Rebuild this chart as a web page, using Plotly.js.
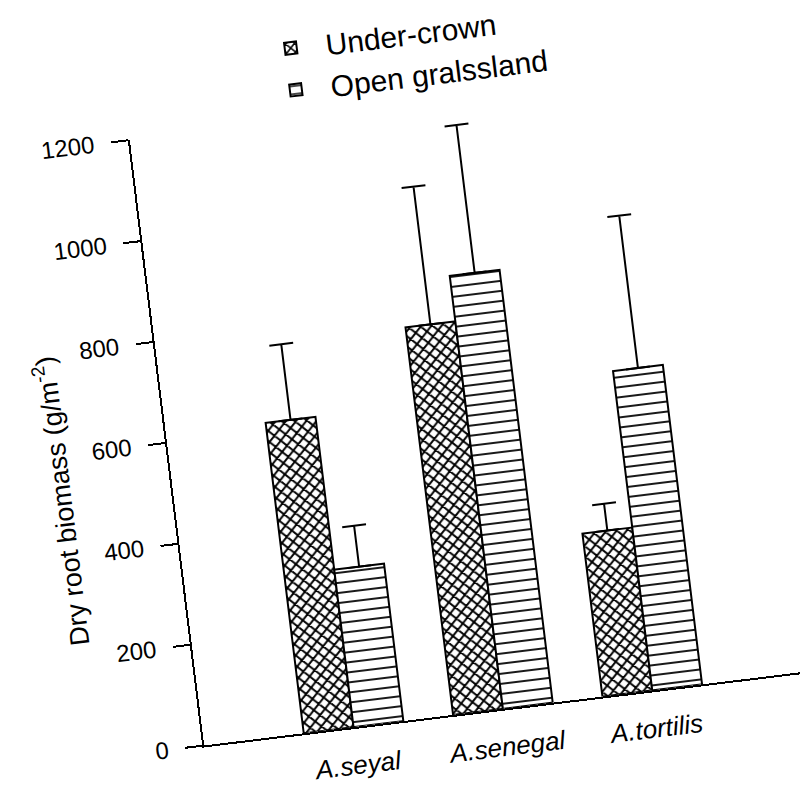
<!DOCTYPE html>
<html>
<head>
<meta charset="utf-8">
<script src="https://cdn.plot.ly/plotly-3.0.1.min.js"></script>
<style>
  html, body { margin: 0; padding: 0; background: #ffffff; overflow: hidden; width: 800px; height: 791px; }
  #chart { width: 800px; height: 791px; transform: rotate(-7deg); transform-origin: 400px 395.5px; }
</style>
</head>
<body>
<div id="chart"></div>
<script>
// ---- data ----
const categories = ['A.seyal', 'A.senegal', 'A.tortilis'];
const seriesNames = ['Under-crown', 'Open gralssland'];
const underCrown = [615, 768, 323];
const underCrownErr = [150, 273, 53];
const openGrassland = [312, 858, 633];
const openGrasslandErr = [81, 293, 302];
const yTickVals = [0, 200, 400, 600, 800, 1000, 1200];

const FONT = 'Liberation Sans, Arial, sans-serif';

const traces = [
  {
    type: 'bar',
    name: seriesNames[0],
    x: categories,
    y: underCrown,
    marker: {
      color: '#ffffff',
      line: { color: '#000000', width: 2 },
      pattern: { shape: 'x', fgcolor: '#000000', bgcolor: '#ffffff', size: 8, solidity: 0.42 }
    },
    error_y: {
      type: 'data', symmetric: false, array: underCrownErr,
      arrayminus: underCrownErr.map(() => 0),
      color: '#000000', thickness: 2, width: 12
    }
  },
  {
    type: 'bar',
    name: seriesNames[1],
    x: categories,
    y: openGrassland,
    marker: {
      color: '#ffffff',
      line: { color: '#000000', width: 2 },
      pattern: { shape: '-', fgcolor: '#000000', bgcolor: '#ffffff', size: 10, solidity: 0.18 }
    },
    error_y: {
      type: 'data', symmetric: false, array: openGrasslandErr,
      arrayminus: openGrasslandErr.map(() => 0),
      color: '#000000', thickness: 2, width: 12
    }
  }
];

const layout = {
  width: 800,
  height: 791,
  paper_bgcolor: '#ffffff',
  plot_bgcolor: '#ffffff',
  font: { family: FONT, color: '#000000', size: 26 },
  margin: { l: 163, r: 5, t: 109, b: 72 },
  barmode: 'group',
  bargap: 0.333,
  bargroupgap: 0,
  showlegend: true,
  legend: {
    x: 0.215, xanchor: 'left',
    y: 1.16, yanchor: 'top',
    font: { family: FONT, size: 30, color: '#000000' },
    bgcolor: 'rgba(0,0,0,0)',
    itemwidth: 60,
    tracegroupgap: 0
  },
  xaxis: {
    type: 'category',
    range: [-1, 3.2],
    showline: true, linecolor: '#000000', linewidth: 2,
    ticks: '', showgrid: false, zeroline: false,
    ticklabelstandoff: 14,
    tickfont: { family: FONT, size: 26, style: 'italic', color: '#000000' }
  },
  yaxis: {
    range: [0, 1200],
    tickvals: yTickVals,
    showline: true, linecolor: '#000000', linewidth: 2,
    ticks: 'outside', ticklen: 17, tickwidth: 2, tickcolor: '#000000',
    ticklabelstandoff: 12,
    showgrid: false, zeroline: false,
    tickfont: { family: FONT, size: 24, color: '#000000' },
    title: {
      text: 'Dry root biomass (g/m<sup>-2</sup>)' + '&nbsp;'.repeat(12),
      font: { family: FONT, size: 27, color: '#000000' },
      standoff: 4
    }
  }
};

Plotly.newPlot('chart', traces, layout, { staticPlot: true, displayModeBar: false });
</script>
</body>
</html>
